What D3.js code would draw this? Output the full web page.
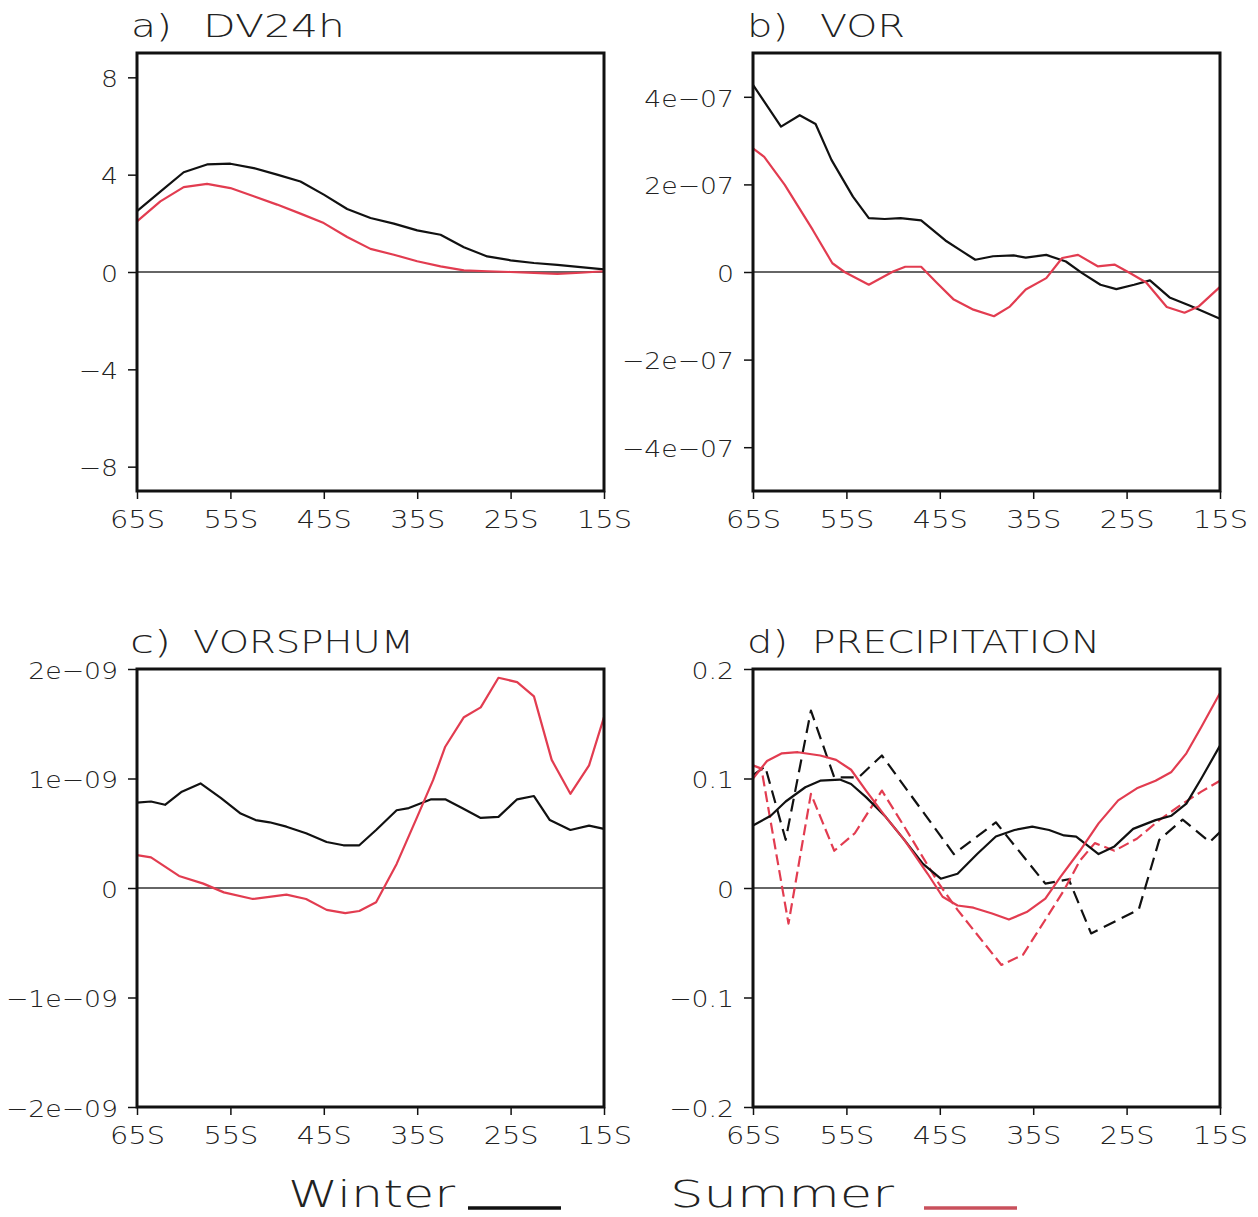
<!DOCTYPE html>
<html>
<head>
<meta charset="utf-8">
<script src="https://cdn.jsdelivr.net/npm/d3@7"></script>
<style>
  body { margin: 0; background: #fff; }
  svg text { font-family: "DejaVu Sans", sans-serif; font-weight: 200; fill: #222; }
</style>
</head>
<body>
<svg id="chart" width="1258" height="1217"></svg>
<script>
// x axis (latitude, degrees, south negative)
const latTicks = [-65, -55, -45, -35, -25, -15];
const latLabels = ['65S', '55S', '45S', '35S', '25S', '15S'];

// a) DV24h - 2.5 degree grid
const dvLat = [-65, -62.5, -60, -57.5, -55, -52.5, -50, -47.5, -45, -42.5, -40, -37.5, -35, -32.5, -30, -27.5, -25, -22.5, -20, -17.5, -15];
const dvWinter = [2.5, 3.3, 4.1, 4.42, 4.45, 4.27, 4.0, 3.72, 3.18, 2.59, 2.22, 1.99, 1.71, 1.53, 1.02, 0.64, 0.48, 0.37, 0.29, 0.2, 0.11];
const dvSummer = [2.08, 2.9, 3.49, 3.62, 3.45, 3.11, 2.77, 2.4, 2.01, 1.44, 0.95, 0.71, 0.44, 0.23, 0.07, 0.03, 0, -0.04, -0.08, -0.03, 0.03];
const dvTicks = [-8, -4, 0, 4, 8];
const dvLabels = ['−8', '−4', '0', '4', '8'];

// b) VOR
const vorWinterLat = [-65, -62, -60, -58.3, -56.6, -54.3, -52.6, -50.9, -49.2, -47, -44.4, -42.6, -41.2, -39.3, -37.1, -35.8, -33.6, -31.5, -29.8, -27.8, -26.1, -24.2, -22.5, -20.4, -18.2, -15];
const vorWinter = [4.27e-7, 3.32e-7, 3.58e-7, 3.38e-7, 2.56e-7, 1.72e-7, 1.23e-7, 1.21e-7, 1.23e-7, 1.18e-7, 0.72e-7, 0.47e-7, 0.28e-7, 0.36e-7, 0.38e-7, 0.33e-7, 0.39e-7, 0.24e-7, -0.02e-7, -0.29e-7, -0.39e-7, -0.29e-7, -0.19e-7, -0.58e-7, -0.77e-7, -1.07e-7];
const vorSummerLat = [-65, -63.8, -61.6, -58.6, -56.5, -55.2, -52.6, -50, -48.7, -47, -45.3, -43.5, -41.4, -39.2, -37.5, -35.8, -33.6, -31.9, -30.2, -28.1, -26.3, -24.6, -22.9, -20.7, -18.8, -17.3, -15];
const vorSummer = [2.82e-7, 2.63e-7, 1.99e-7, 0.96e-7, 0.2e-7, 0, -0.29e-7, 0.01e-7, 0.12e-7, 0.12e-7, -0.25e-7, -0.63e-7, -0.86e-7, -1.01e-7, -0.79e-7, -0.4e-7, -0.14e-7, 0.32e-7, 0.39e-7, 0.13e-7, 0.17e-7, -0.03e-7, -0.24e-7, -0.8e-7, -0.93e-7, -0.79e-7, -0.34e-7];
const vorTicks = [-4e-7, -2e-7, 0, 2e-7, 4e-7];
const vorLabels = ['−4e−07', '−2e−07', '0', '2e−07', '4e−07'];

// c) VORSPHUM
const vsWinterLat = [-65, -63.5, -62, -60.2, -58.2, -56, -53.9, -52.3, -50.8, -49, -46.9, -44.7, -42.9, -41.2, -39.4, -37.2, -35.9, -33.5, -32, -30.2, -28.2, -26.3, -24.3, -22.5, -20.8, -18.6, -16.6, -15];
const vsWinter = [0.78e-9, 0.79e-9, 0.76e-9, 0.88e-9, 0.955e-9, 0.82e-9, 0.68e-9, 0.62e-9, 0.6e-9, 0.56e-9, 0.5e-9, 0.42e-9, 0.39e-9, 0.39e-9, 0.53e-9, 0.71e-9, 0.73e-9, 0.81e-9, 0.81e-9, 0.73e-9, 0.64e-9, 0.65e-9, 0.81e-9, 0.84e-9, 0.62e-9, 0.53e-9, 0.57e-9, 0.54e-9];
const vsSummerLat = [-65, -63.5, -60.5, -57.9, -55.7, -52.6, -49, -46.9, -44.7, -42.7, -41.2, -39.4, -37.2, -35, -33.3, -32, -30, -28.2, -26.3, -24.3, -22.5, -20.6, -18.6, -16.6, -15];
const vsSummer = [0.3e-9, 0.28e-9, 0.11e-9, 0.04e-9, -0.04e-9, -0.1e-9, -0.06e-9, -0.1e-9, -0.2e-9, -0.23e-9, -0.21e-9, -0.13e-9, 0.22e-9, 0.65e-9, 0.985e-9, 1.29e-9, 1.56e-9, 1.65e-9, 1.92e-9, 1.88e-9, 1.75e-9, 1.17e-9, 0.86e-9, 1.12e-9, 1.56e-9];
const vsTicks = [-2e-9, -1e-9, 0, 1e-9, 2e-9];
const vsLabels = ['−2e−09', '−1e−09', '0', '1e−09', '2e−09'];

// d) PRECIPITATION (solid and dashed per season)
const prWinterLat = [-65, -63.1, -61.5, -59.4, -57.8, -55.7, -54.5, -52.9, -50.8, -48.8, -46.8, -44.9, -43.1, -41, -39, -37, -35.1, -33.3, -31.7, -30.4, -28, -26.3, -24.3, -21.9, -20.2, -18.6, -17, -15];
const prWinter = [0.057, 0.066, 0.079, 0.092, 0.098, 0.099, 0.095, 0.083, 0.065, 0.044, 0.022, 0.0085, 0.013, 0.031, 0.047, 0.053, 0.056, 0.053, 0.048, 0.047, 0.031, 0.038, 0.054, 0.062, 0.066, 0.077, 0.1, 0.13];
const prWinterDashLat = [-65, -63.7, -61.5, -58.8, -56.3, -53.7, -51.2, -43.5, -39, -33.7, -31.2, -28.8, -23.7, -21.5, -19, -16.1, -15];
const prWinterDash = [0.103, 0.111, 0.044, 0.162, 0.101, 0.101, 0.121, 0.031, 0.06, 0.004, 0.008, -0.0415, -0.0197, 0.044, 0.0625, 0.042, 0.051];
const prSummerLat = [-65, -63.5, -61.9, -60.2, -57.8, -56.1, -54.5, -52.9, -50.8, -48.8, -46.3, -44.7, -43.1, -41.4, -39.4, -37.6, -35.7, -33.7, -32.1, -30, -28, -25.9, -23.9, -21.9, -20.2, -18.6, -17, -15];
const prSummer = [0.1, 0.116, 0.123, 0.124, 0.121, 0.117, 0.108, 0.089, 0.065, 0.044, 0.013, -0.008, -0.016, -0.018, -0.0233, -0.0288, -0.022, -0.0097, 0.01, 0.034, 0.059, 0.08, 0.091, 0.098, 0.106, 0.123, 0.147, 0.178];
const prSummerDashLat = [-65, -64.1, -61.2, -58.8, -56.3, -54.1, -51.2, -48.8, -45.1, -43.1, -38.4, -36.1, -33.7, -31.7, -30, -28.4, -26.3, -23.9, -21.5, -19, -17, -15];
const prSummerDash = [0.112, 0.109, -0.0325, 0.086, 0.034, 0.05, 0.089, 0.056, 0.004, -0.02, -0.0703, -0.061, -0.029, -0.002, 0.025, 0.041, 0.034, 0.045, 0.062, 0.077, 0.088, 0.098];
const prTicks = [-0.2, -0.1, 0, 0.1, 0.2];
const prLabels = ['−0.2', '−0.1', '0', '0.1', '0.2'];

const black = '#111';
const red = '#e23c50';

const svg = d3.select('#chart');

const panels = [
  { tag: 'a)', name: 'DV24h', left: 137, top: 53, domain: [-9, 9], ticks: dvTicks, labels: dvLabels,
    tagX: 131, nameX: 203, nameLen: 142,
    series: [
      { lat: dvLat, val: dvWinter, color: black },
      { lat: dvLat, val: dvSummer, color: red }
    ] },
  { tag: 'b)', name: 'VOR', left: 753, top: 53, domain: [-5e-7, 5e-7], ticks: vorTicks, labels: vorLabels,
    tagX: 747, nameX: 820, nameLen: 85,
    series: [
      { lat: vorWinterLat, val: vorWinter, color: black },
      { lat: vorSummerLat, val: vorSummer, color: red }
    ] },
  { tag: 'c)', name: 'VORSPHUM', left: 137, top: 669, domain: [-2e-9, 2e-9], ticks: vsTicks, labels: vsLabels,
    tagX: 130, nameX: 193, nameLen: 221,
    series: [
      { lat: vsWinterLat, val: vsWinter, color: black },
      { lat: vsSummerLat, val: vsSummer, color: red }
    ] },
  { tag: 'd)', name: 'PRECIPITATION', left: 753, top: 669, domain: [-0.2, 0.2], ticks: prTicks, labels: prLabels,
    tagX: 747, nameX: 812, nameLen: 288,
    series: [
      { lat: prWinterDashLat, val: prWinterDash, color: black, dash: '13,7' },
      { lat: prSummerDashLat, val: prSummerDash, color: red, dash: '11,5' },
      { lat: prWinterLat, val: prWinter, color: black },
      { lat: prSummerLat, val: prSummer, color: red }
    ] }
];

const width = 467;
const height = 438;

// widen the glyphs a bit, the original font is broader than DejaVu
function stretch(sel, k) {
  sel.each(function () {
    const w = this.getComputedTextLength();
    d3.select(this).attr('textLength', w * k).attr('lengthAdjust', 'spacingAndGlyphs');
  });
}

panels.forEach(p => {
  const g = svg.append('g').attr('transform', `translate(${p.left},${p.top})`);

  const x = d3.scaleLinear().domain([-65, -15]).range([0, width]);
  const y = d3.scaleLinear().domain(p.domain).range([height, 0]);

  // title
  g.append('text')
    .attr('x', p.tagX - p.left).attr('y', -16)
    .attr('font-size', 32)
    .attr('textLength', 41).attr('lengthAdjust', 'spacingAndGlyphs')
    .text(p.tag);
  g.append('text')
    .attr('x', p.nameX - p.left).attr('y', -16)
    .attr('font-size', 32)
    .attr('textLength', p.nameLen).attr('lengthAdjust', 'spacingAndGlyphs')
    .text(p.name);

  // zero line
  g.append('line')
    .attr('x1', 0).attr('x2', width)
    .attr('y1', y(0)).attr('y2', y(0))
    .attr('stroke', '#333').attr('stroke-width', 1.3);

  const line = d3.line()
    .x(d => x(d[0]))
    .y(d => y(d[1]));

  p.series.forEach(s => {
    g.append('path')
      .datum(s.lat.map((l, i) => [l, s.val[i]]))
      .attr('d', line)
      .attr('fill', 'none')
      .attr('stroke', s.color)
      .attr('stroke-width', 2.2)
      .attr('stroke-dasharray', s.dash || null)
      .attr('stroke-linejoin', 'round');
  });

  // axes
  const yAxis = g.append('g')
    .call(d3.axisLeft(y).tickValues(p.ticks).tickFormat((d, i) => p.labels[i]).tickSize(9).tickPadding(10));
  yAxis.select('.domain').remove();
  yAxis.selectAll('line').attr('stroke', black).attr('stroke-width', 1.5);
  yAxis.selectAll('text')
    .attr('font-size', 23).attr('fill', '#222')
    .attr('dy', '0.4em')
    .call(stretch, 1.16);

  const xAxis = g.append('g')
    .attr('transform', `translate(0,${height})`)
    .call(d3.axisBottom(x).tickValues(latTicks).tickFormat((d, i) => latLabels[i]).tickSize(8).tickPadding(6));
  xAxis.select('.domain').remove();
  xAxis.selectAll('line').attr('stroke', black).attr('stroke-width', 1.5);
  xAxis.selectAll('text')
    .attr('font-size', 24).attr('fill', '#222')
    .attr('dy', '0.95em')
    .call(stretch, 1.2);

  // frame
  g.append('rect')
    .attr('x', 0).attr('y', 0)
    .attr('width', width).attr('height', height)
    .attr('fill', 'none')
    .attr('stroke', black)
    .attr('stroke-width', 3);
});

// legend
const legend = [
  { label: 'Winter', x: 288, len: 167, lx1: 468, lx2: 561, color: black },
  { label: 'Summer', x: 670, len: 224, lx1: 924, lx2: 1017, color: '#c9505c' }
];
legend.forEach(l => {
  svg.append('text')
    .attr('x', l.x).attr('y', 1207)
    .attr('font-size', 38)
    .attr('textLength', l.len).attr('lengthAdjust', 'spacingAndGlyphs')
    .text(l.label);
  svg.append('line')
    .attr('x1', l.lx1).attr('x2', l.lx2)
    .attr('y1', 1208).attr('y2', 1208)
    .attr('stroke', l.color).attr('stroke-width', 3.5);
});
</script>
</body>
</html>
